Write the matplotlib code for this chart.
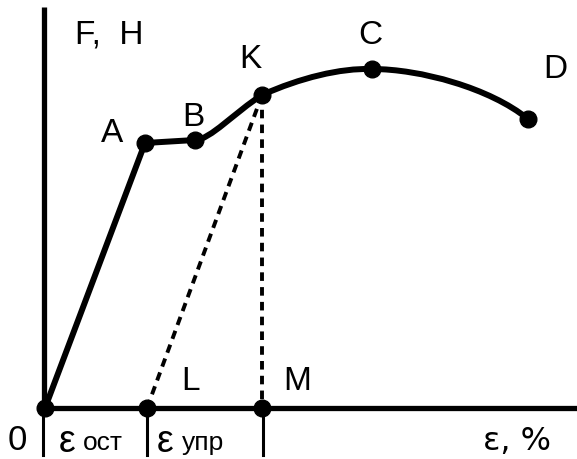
import numpy as np
import matplotlib.pyplot as plt
from matplotlib.path import Path
from matplotlib.patches import PathPatch

plt.rcParams['font.family'] = ['Liberation Sans', 'DejaVu Sans']

# points of the diagram (strain, force), origin at 0
names = ['0', 'A', 'B', 'K', 'C', 'D']
eps = [0, 100, 150, 217, 327, 483]
force = [0, 265, 268, 313, 339, 289]
# unloading points
eps_L = 102
eps_M = 217

fig = plt.figure(figsize=(5.77, 4.59), dpi=100)
ax = fig.add_axes([0, 0, 1, 1])
ax.set_xlim(-45, 532)
ax.set_ylim(-51, 408)
ax.axis('off')

lw = 4.3
# axes
ax.plot([-1, -1], [-1, 401], color='black', lw=3.8, solid_capstyle='butt', zorder=2)
ax.plot([-1, 532], [0, 0], color='black', lw=3.8, solid_capstyle='butt', zorder=2)
for t in [-2, eps_L, eps_M + 1]:
    ax.plot([t, t], [0, -47], color='black', lw=2.2, zorder=2)

# straight parts O-A-B
ax.plot(eps[:3], force[:3], color='black', lw=lw, solid_joinstyle='round', zorder=3)

# smooth parts B-K and K-C-D
verts = [(eps[2], force[2]), (165, 268), (190, 296), (eps[3], force[3]),
         (255, 330), (295, 340), (eps[4], force[4]),
         (375, 339), (445, 320), (eps[5], force[5])]
codes = [Path.MOVETO] + [Path.CURVE4] * 9
ax.add_patch(PathPatch(Path(verts, codes), fill=False, lw=lw, color='black',
                       capstyle='round', zorder=3))

# unloading lines
ax.plot([eps[3], eps_L], [force[3], 0], color='black', lw=2.8, ls=(0, (2.2, 1.6)), zorder=2)
ax.plot([eps[3], eps_M], [force[3], 0], color='black', lw=2.8, ls=(0, (2.2, 1.6)), zorder=2)

# markers
ax.plot(eps, force, 'o', color='black', ms=12, zorder=4)
ax.plot([eps_L, eps_M], [0, 0], 'o', color='black', ms=12, zorder=4)

fs = 24
ax.text(30, 373, 'F,  H', fontsize=fs, va='center', ha='left')
ax.text(67, 274, 'A', fontsize=fs, ha='center', va='center')
ax.text(148, 290, 'B', fontsize=fs, ha='center', va='center')
ax.text(205, 348, 'K', fontsize=fs, ha='center', va='center')
ax.text(325, 373, 'C', fontsize=fs, ha='center', va='center')
ax.text(510, 338, 'D', fontsize=fs, ha='center', va='center')
ax.text(eps_L + 44, 27, 'L', fontsize=fs, ha='center', va='center')
ax.text(eps_M + 35, 27, 'M', fontsize=fs, ha='center', va='center')

ax.text(-28, -33, '0', fontsize=25, ha='center', va='center')
ax.text(14, -34, 'ε', fontsize=27, ha='left', va='center')
ax.text(38, -35, 'ост', fontsize=19, ha='left', va='center')
ax.text(112, -34, 'ε', fontsize=27, ha='left', va='center')
ax.text(137, -35, 'упр', fontsize=19, ha='left', va='center')
ax.text(472, -33, 'ε, %', fontsize=23, ha='center', va='center', family='DejaVu Sans')

fig.savefig('out.png', dpi=100)
